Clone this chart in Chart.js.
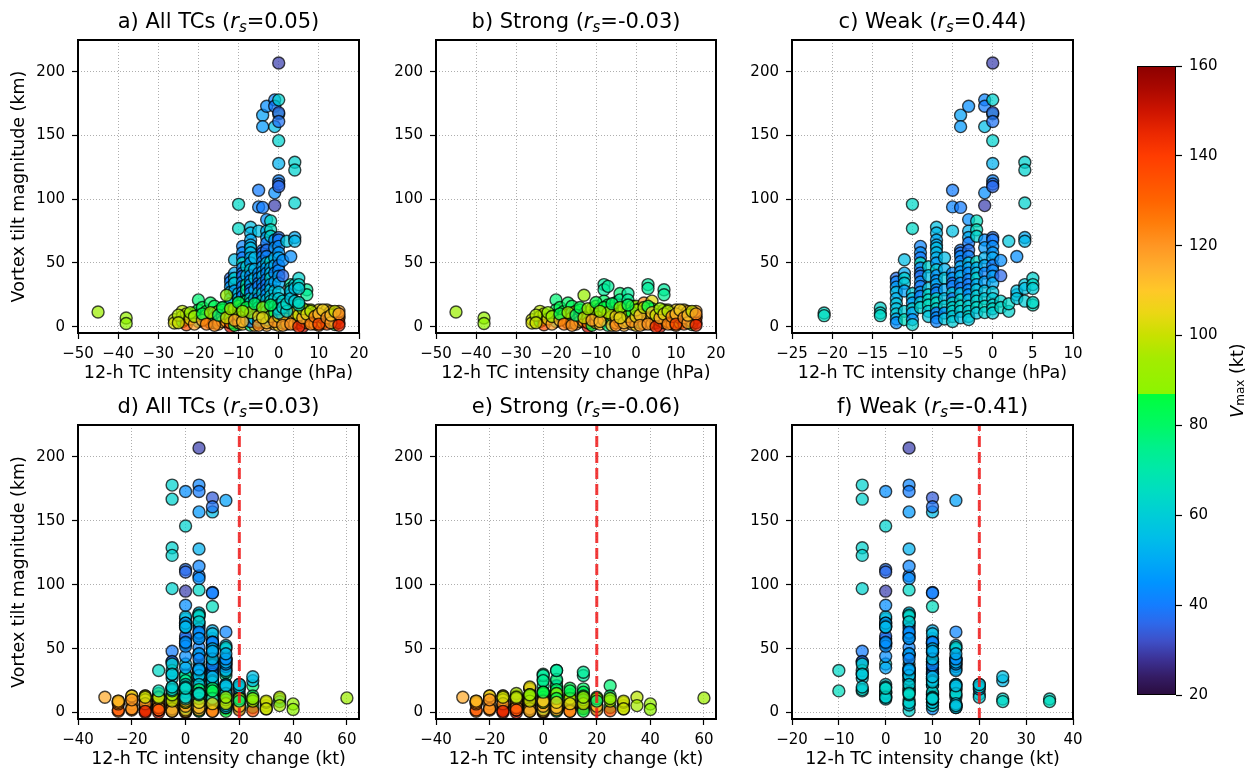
<!DOCTYPE html>
<html>
<head>
<meta charset="utf-8">
<title>Vortex tilt vs 12-h intensity change</title>
<script src="https://cdn.jsdelivr.net/npm/chart.js@4.4.1/dist/chart.umd.min.js"></script>
<style>
  html, body { margin: 0; padding: 0; background: #fff; }
  #fig { position: relative; width: 1253px; height: 772px; overflow: hidden; }
  #fig canvas { position: absolute; }
</style>
</head>
<body>
<div id="fig"></div>
<script>
// Weak TCs, one line per pressure-change bin:
// 12-h pressure change (hPa), 12-h wind change (kt), tilt (km), Vmax (kt)
const weakDp = [
  -21, -21,
  -14, -14, -14,
  -12, -12, -12, -12, -12, -12, -12, -12, -12, -12,
  -11, -11, -11, -11, -11, -11, -11,
  -10, -10, -10, -10, -10, -10, -10, -10, -10,
  -9, -9, -9, -9, -9, -9, -9, -9, -9, -9, -9, -9, -9,
  -8, -8, -8, -8, -8, -8, -8, -8,
  -7, -7, -7, -7, -7, -7, -7, -7, -7, -7, -7, -7, -7, -7, -7, -7, -7, -7, -7, -7,
  -6, -6, -6, -6, -6, -6, -6, -6,
  -5, -5, -5, -5, -5, -5, -5, -5, -5, -5, -5, -5, -5, -5,
  -4, -4, -4, -4, -4, -4, -4, -4, -4, -4, -4, -4, -4, -4, -4, -4, -4,
  -3, -3, -3, -3, -3, -3, -3, -3, -3, -3, -3, -3, -3, -3, -3, -3, -3, -3, -3,
  -2, -2, -2, -2, -2, -2, -2, -2, -2, -2, -2, -2, -2,
  -1, -1, -1, -1, -1, -1, -1, -1, -1, -1, -1, -1, -1, -1, -1,
  0, 0, 0, 0, 0, 0, 0, 0, 0, 0, 0, 0, 0, 0, 0, 0, 0, 0, 0, 0, 0, 0, 0, 0,
  1, 1, 1, 1,
  2, 2, 2,
  3, 3, 3, 3,
  4, 4, 4, 4, 4, 4, 4, 4,
  5, 5, 5, 5, 5
];
const weakDv = [
  35, 35,
  20, 25, 25,
  15, 10, 5, 10, 20, 15, 10, 5, 15, 10,
  15, 10, 5, 15, 10, 20, 10,
  5, 5, 10, 15, 20, 10, 10, 15, 5,
  15, 10, 10, 10, 5, 15, 10, 5, 5, 10, 5, 15, 10,
  10, 15, 10, 5, 5, 5, 15, 10,
  5, 0, 5, 10, 10, 5, 10, 15, 5, 10, 15, 15, 5, 10, 10, 5, 15, 10, 5, 15,
  10, 5, 10, 5, 15, 0, 10, 5,
  5, 10, 0, 15, 15, 10, 10, 5, 10, 5, 15, 0, 10, 15,
  15, 5, 10, 5, 0, 10, 5, 10, 15, 15, 5, 10, 5, 10, 5, 0, 15,
  0, 0, 5, 5, 5, 0, 10, 10, 5, 15, 10, 5, 5, 10, 15, 10, 10, 5, 15,
  10, 5, 5, 15, 15, 10, 0, 5, 5, 10, 20, 0, 10,
  5, 5, 10, 5, 0, 0, 5, 0, 10, 5, 0, 10, 5, 0, 10,
  5, -5, -5, 10, 10, 0, 5, 5, 0, 0, 0, 0, 5, 5, 0, -5, 0, -5, 5, -5, 0, -5, 5, 0,
  0, -5, 0, 5,
  0, 0, -5,
  0, 25, 25, 20,
  -5, -5, -5, 0, 0, -5, -5, -5,
  -5, -10, -10, -5, 0
];
const weakTilt = [
  10.7, 8.6,
  14.6, 10.7, 8.6,
  38, 35, 31, 27, 22, 18, 14, 10, 6, 3,
  52.5, 42, 38, 34, 28, 12, 5.5,
  96, 77, 26, 22, 18.5, 14, 10.7, 5.5, 1.6,
  63, 58, 54, 50, 46, 42, 39.5, 35, 31.6, 27, 23.8, 19, 15,
  47, 40, 30, 25, 21, 17, 12, 8,
  78, 73.5, 68, 64, 61.7, 58, 54, 50, 44.7, 40, 36, 33, 29, 26.4, 22, 18.6, 14, 10.7, 7, 4,
  54, 45, 38, 29, 22, 16, 10.7, 6,
  107, 94, 75, 42, 38, 34, 31.6, 26.4, 22, 18.6, 15, 12, 8, 4,
  166, 157, 93.6, 60, 57.8, 55, 51, 47, 43, 39.5, 34, 30, 26, 21, 16, 12, 7,
  173, 84, 75, 70, 65.6, 60, 55, 50, 46, 42, 37, 33, 29, 25, 21, 16, 12, 8, 5.5,
  83, 76, 71, 51, 46, 42, 38, 33, 29, 24, 20, 15, 10.7,
  178, 173, 157, 105, 95, 68, 62, 54, 48, 42, 35, 28, 22, 16, 11,
  207, 178, 167, 168, 161, 146, 128, 114.5, 112, 110, 70, 68, 63, 58, 54, 48, 44, 39.5, 34, 27, 22, 17, 14, 10.7,
  52, 40, 20, 15,
  67, 12, 18,
  55, 25, 28, 22,
  129, 123, 97, 70, 67, 33, 30, 20,
  38, 33, 17, 30, 19
];
const weakVmax = [
  64, 66,
  62, 63, 64,
  38, 42, 48, 55, 52, 58, 56, 60, 50, 44,
  55, 50, 62, 58, 48, 60, 66,
  64, 64, 60, 56, 48, 62, 50, 45, 62,
  42, 44, 40, 66, 42, 40, 38, 44, 40, 46, 42, 60, 62,
  62, 56, 58, 64, 64, 66, 60, 58,
  56, 54, 50, 52, 56, 54, 52, 48, 60, 44, 46, 50, 42, 42, 64, 64, 62, 40, 44, 42,
  55, 52, 58, 50, 56, 60, 45, 58,
  40, 42, 56, 44, 46, 38, 42, 58, 40, 64, 62, 62, 58, 60,
  48, 46, 40, 40, 38, 44, 42, 50, 46, 52, 44, 40, 58, 62, 64, 60, 56,
  44, 44, 52, 50, 40, 38, 42, 56, 48, 44, 42, 40, 44, 46, 56, 62, 60, 64, 58,
  66, 66, 62, 64, 52, 56, 62, 50, 58, 60, 62, 64, 58,
  42, 40, 55, 44, 30, 44, 46, 52, 50, 42, 48, 56, 60, 64, 62,
  30, 62, 62, 34, 38, 62, 52, 42, 38, 36, 38, 40, 44, 46, 50, 40, 44, 48, 50, 58, 60, 62, 64, 60,
  44, 36, 62, 64,
  58, 62, 64,
  44, 54, 56, 58,
  62, 62, 62, 50, 54, 58, 56, 60,
  62, 64, 66, 60, 64
];

// Strong TCs: same quantities
const strongDp = [
  -45, -38, -38, -26, -26, -24, -24, -24, -23, -23, -23,
  -20, -20, -20, -20, -19, -18, -18, -18, -17, -17,
  -16, -16, -16, -16, -15, -15, -15, -14, -14, -14,
  -13, -13, -13, -12, -12, -12, -12, -11, -11, -11,
  -10, -10, -10, -10, -10, -9, -9, -9, -8, -8, -8, -8, -8,
  -7, -7, -7, -7, -6, -6, -6, -6, -5, -5, -5,
  -4, -4, -4, -4, -3, -3, -3, -3, -2, -2, -2, -2,
  -1, -1, -1, 0, 0, 0, 0, 1, 1, 1, 2, 2, 2, 2,
  3, 3, 3, 3, 4, 4, 4, 4, 5, 5, 5, 6, 6, 6,
  7, 7, 7, 7, 8, 8, 8, 9, 9, 9, 10, 10, 10,
  10, 11, 11, 11, 12, 12, 12, 12, 13, 13, 13,
  14, 14, 14, 14, 15, 15, 15, 15,
  -25, -25, -22, -22, -21, -21, -19, -19, -18, -17, -16, -15, -14, -13,
  -12, -11, -10, -9, -8, -7, -6, -5, -5, -4, -3, -2, -1, -1,
  0, 0, 1, 1, 2, 3, 3, 4, 5, 5, 6, 6, 7, 8,
  8, 9, 10, 10, 11, 12, 13, 13, 14, 15, 15, -2, -9, -4
];
const strongDv = [
  60, 40, 40, 30, 30, 35, 30, 25, 35, 25, 20,
  25, 25, 15, 20, 15, 20, 15, 30, 15, 10,
  15, 15, 10, 20, 10, 15, 5, 10, 10, 15,
  5, 10, 5, 10, 5, 0, 15, 5, 10, 15,
  5, 0, 10, 5, 15, 5, 10, 0, 5, 15, 5, 0, 10,
  15, 5, 0, 5, 5, 0, 10, -5, 0, 5, -5,
  0, 5, 0, -5, 0, -5, 5, 0, 5, 0, -5, 0,
  0, -5, 5, 0, -5, -10, 0, -5, -10, 0, -5, -10, 0, -5,
  5, 0, -5, -10, -5, -10, -5, 0, -10, -5, -15, -10, -10, -15,
  0, 0, -10, -5, -15, -10, -15, -15, -20, -10, -15, -10, 0,
  -25, -20, -15, -5, -20, -25, -10, -25, -5, -10, -15,
  0, -5, -10, -10, -25, -25, -20, -30,
  25, 30, 20, 25, 20, 15, 20, 15, 10, 20, 10, 20, 5, 15,
  10, 0, 10, 5, 0, 10, 5, 0, 10, 5, -5, 0, 5, -10,
  5, -5, 0, -5, -10, -15, 0, -10, -5, -15, -20, -5, -15, -20,
  -10, -25, -15, -10, -20, -15, -20, -25, -15, -20, -15, 10, 15, 10
];
const strongTilt = [
  11.5, 6.8, 2.5, 5.5, 2.9, 12, 8, 4, 5.5, 1.5, 10,
  21, 13, 4, 9, 15, 12, 6, 9, 18.6, 3,
  16, 10.7, 7, 3, 12, 5, 2, 8, 4, 13,
  24.6, 4, 10, 11, 7, 0, 3, 9, 14, 1,
  12, 6, 3, 16, 9, 14, 8, 2, 33, 29, 20, 11, 5,
  31.6, 17, 8, 1, 5.5, 14, 9, 1, 12, 3, 19,
  26, 21, 10, 4, 6, 9, 14, 1, 26, 21, 12, 4,
  16, 7, 2, 16, 5, 10, 1, 14, 6, 3, 18.6, 8, 12, 2,
  33, 30, 10, 5, 20, 8, 14, 2, 12, 6, 3, 0, 10, 5,
  29, 25, 13, 3, 9, 4, 13, 6, 11, 2, 13, 4, 8,
  1, 10, 3, 7, 13, 9, 5, 2, 11, 12, 6,
  10, 1.6, 8, 4, 8, 6.8, 3, 12,
  9, 3, 6, 11, 2, 8, 5, 10, 2, 11, 1, 9, 15, 7,
  14, 5, 19, 4, 15, 11, 18, 8, 1, 15, 3, 8, 11, 4,
  8, 13, 9, 1, 15, 2, 16, 11, 9, 0, 7, 14, 10, 2,
  12, 8, 10, 2, 13, 7, 3, 9, 12, 10, 1, 17, 12, 7
];
const strongVmax = [
  92, 90, 88, 100, 102, 98, 104, 86, 95, 135, 100,
  78, 80, 70, 76, 84, 86, 110, 100, 80, 118,
  82, 68, 96, 72, 100, 115, 118, 120, 110, 86,
  90, 122, 108, 104, 84, 150, 124, 112, 96, 86,
  104, 106, 116, 92, 88, 86, 98, 110, 72, 72, 80, 100, 122,
  73, 84, 108, 76, 82, 90, 100, 112, 98, 112, 86,
  78, 74, 116, 120, 82, 124, 96, 116, 72, 74, 100, 108,
  98, 104, 112, 90, 102, 118, 108, 96, 110, 86, 120, 122, 104, 124,
  72, 73, 100, 115, 104, 106, 84, 110, 112, 96, 118, 152, 108, 124,
  72, 74, 100, 116, 110, 114, 98, 104, 108, 118, 106, 122, 100,
  126, 114, 90, 120, 104, 140, 112, 134, 100, 116, 142,
  106, 86, 120, 112, 120, 124, 142, 116,
  96, 100, 104, 88, 118, 92, 112, 84, 126, 94, 122, 78, 84, 100,
  92, 118, 84, 112, 86, 96, 80, 106, 122, 88, 112, 96, 84, 120,
  104, 92, 112, 118, 96, 120, 84, 110, 100, 145, 116, 90, 104, 124,
  96, 124, 112, 138, 108, 120, 118, 110, 100, 120, 146, 82, 92, 104
];

// Spearman coefficients shown in the panel titles
const rsValues = ['0.05', '-0.03', '0.44', '0.03', '-0.06', '-0.41'];
// Rapid-intensification threshold (kt / 12 h)
const riThreshold = 20;

// Tick positions
const dpTicksAll = [-50, -40, -30, -20, -10, 0, 10, 20];
const dpTicksWeak = [-25, -20, -15, -10, -5, 0, 5, 10];
const dvTicksAll = [-40, -20, 0, 20, 40, 60];
const dvTicksWeak = [-20, -10, 0, 10, 20, 30, 40];
const tiltTicks = [0, 50, 100, 150, 200];
const vmaxTicks = [20, 40, 60, 80, 100, 120, 140, 160];

// Vmax colour map (kt -> rgb), with the hard break near 87 kt
const cmapValues = [20, 24, 28, 32, 36, 40, 45, 50, 55, 60, 65, 70, 75, 80, 86.9, 87,
  95, 100, 105, 110, 115, 120, 125, 130, 135, 140, 145, 150, 155, 160];
const cmapColors = [
  [42, 12, 62], [52, 28, 100], [60, 50, 150], [62, 80, 200], [45, 105, 235], [20, 125, 255],
  [0, 148, 255], [0, 170, 245], [0, 190, 232], [0, 205, 215], [0, 220, 195], [0, 232, 170],
  [0, 240, 140], [0, 248, 100], [0, 255, 60], [140, 245, 0],
  [165, 235, 0], [200, 225, 0], [235, 215, 20], [255, 200, 40], [255, 175, 45], [255, 150, 35],
  [255, 125, 10], [255, 100, 0], [255, 80, 0], [255, 60, 0], [235, 40, 0], [205, 20, 0],
  [170, 8, 0], [140, 0, 0]
];

const FAMILY = '"DejaVu Sans", "Liberation Sans", sans-serif';
const Y_MIN = -5, Y_MAX = 225;

Chart.defaults.font.family = FAMILY;
Chart.defaults.color = '#000';

function cmapRgb(v) {
  if (v <= cmapValues[0]) return cmapColors[0];
  for (let i = 1; i < cmapValues.length; i++) {
    if (v <= cmapValues[i]) {
      const t = (v - cmapValues[i - 1]) / (cmapValues[i] - cmapValues[i - 1]);
      const a = cmapColors[i - 1], b = cmapColors[i];
      return a.map((c, k) => Math.round(c + (b[k] - c) * t));
    }
  }
  return cmapColors[cmapColors.length - 1];
}
const rgba = (c, a) => `rgba(${c[0]},${c[1]},${c[2]},${a})`;

const groups = {
  weak: { dp: weakDp, dv: weakDv, tilt: weakTilt, vmax: weakVmax },
  strong: { dp: strongDp, dv: strongDv, tilt: strongTilt, vmax: strongVmax }
};

const fmtTick = v => (v < 0 ? '\u2212' + Math.abs(v) : String(v));

// Axes boxes in page pixels
const panels = [
  { tag: 'a) All TCs', xKey: 'dp', sets: ['weak', 'strong'], xMin: -50, xMax: 20, xTicks: dpTicksAll, unit: 'hPa', left: 78, top: 40, w: 281, h: 293, yTitle: true },
  { tag: 'b) Strong', xKey: 'dp', sets: ['strong'], xMin: -50, xMax: 20, xTicks: dpTicksAll, unit: 'hPa', left: 436, top: 40, w: 280, h: 293 },
  { tag: 'c) Weak', xKey: 'dp', sets: ['weak'], xMin: -25, xMax: 10, xTicks: dpTicksWeak, unit: 'hPa', left: 792, top: 40, w: 281, h: 293 },
  { tag: 'd) All TCs', xKey: 'dv', sets: ['weak', 'strong'], xMin: -40, xMax: 64.5, xTicks: dvTicksAll, unit: 'kt', left: 78, top: 425, w: 281, h: 294, yTitle: true, ri: true },
  { tag: 'e) Strong', xKey: 'dv', sets: ['strong'], xMin: -40, xMax: 64.5, xTicks: dvTicksAll, unit: 'kt', left: 436, top: 425, w: 280, h: 294, ri: true },
  { tag: 'f) Weak', xKey: 'dv', sets: ['weak'], xMin: -20, xMax: 40, xTicks: dvTicksWeak, unit: 'kt', left: 792, top: 425, w: 281, h: 294, ri: true }
];

// room around each axes box inside its canvas
const ML = 78, MT = 40, MR = 24, MB = 55;

const fig = document.getElementById('fig');
function addCanvas(x, y, w, h) {
  const c = document.createElement('canvas');
  c.width = w; c.height = h;
  c.style.left = x + 'px'; c.style.top = y + 'px';
  c.style.width = w + 'px'; c.style.height = h + 'px';
  fig.appendChild(c);
  return c;
}

// draws a run of text pieces (font, vertical shift) centred on x
function drawRuns(ctx, runs, x, y) {
  let w = 0;
  runs.forEach(r => { ctx.font = r.font; w += ctx.measureText(r.text).width; });
  let cx = x - w / 2;
  runs.forEach(r => {
    ctx.font = r.font;
    ctx.fillText(r.text, cx, y + (r.dy || 0));
    cx += ctx.measureText(r.text).width;
  });
}

const panelFrame = {
  id: 'panelFrame',
  afterDatasetsDraw(chart) {
    const { ctx, chartArea: a } = chart;
    ctx.save();
    ctx.strokeStyle = '#000';
    ctx.lineWidth = 2;
    ctx.strokeRect(a.left, a.top, a.right - a.left, a.bottom - a.top);
    ctx.restore();
  },
  afterDraw(chart, args, opts) {
    const { ctx, chartArea: a } = chart;
    ctx.save();
    ctx.fillStyle = '#000';
    ctx.textBaseline = 'alphabetic';
    ctx.textAlign = 'left';
    drawRuns(ctx, [
      { text: opts.tag + ' (', font: `21px ${FAMILY}` },
      { text: 'r', font: `italic 21px ${FAMILY}` },
      { text: 's', font: `italic 15px ${FAMILY}`, dy: 4 },
      { text: '=' + opts.rs + ')', font: `21px ${FAMILY}` }
    ], (a.left + a.right) / 2, a.top - 12);
    ctx.restore();
  }
};

// one point list per panel; weak and strong records alternate in drawing order
function panelPoints(p) {
  const lists = p.sets.map(name => {
    const g = groups[name];
    return g.tilt.map((t, k) => ({ x: g[p.xKey][k], y: t, v: g.vmax[k] }));
  });
  const out = [];
  const n = Math.max(...lists.map(l => l.length));
  for (let k = 0; k < n; k++) lists.forEach(l => { if (k < l.length) out.push(l[k]); });
  return out;
}

panels.forEach((p, i) => {
  const canvas = addCanvas(p.left - ML, p.top - MT, ML + p.w + MR, MT + p.h + MB);
  const recs = panelPoints(p);

  const datasets = [{
    data: recs.map(r => ({ x: r.x, y: r.y })),
    pointRadius: 6,
    pointBackgroundColor: recs.map(r => rgba(cmapRgb(r.v), 0.72)),
    pointBorderColor: 'rgba(0,0,0,0.72)',
    pointBorderWidth: 1.4,
    clip: 0,
    order: 2
  }];
  if (p.ri) {
    datasets.push({
      data: [{ x: riThreshold, y: Y_MIN }, { x: riThreshold, y: Y_MAX }],
      showLine: true,
      borderColor: 'rgba(240,25,25,0.85)',
      borderWidth: 3,
      borderDash: [11, 5],
      pointRadius: 0,
      clip: 0,
      order: 1
    });
  }

  const grid = {
    color: '#999999', lineWidth: 0.8,
    tickColor: '#000', tickLength: 6, tickWidth: 1.2, tickBorderDash: []
  };

  new Chart(canvas, {
    type: 'scatter',
    data: { datasets },
    options: {
      responsive: false,
      animation: false,
      events: [],
      layout: { padding: { left: 0, top: MT, right: MR, bottom: 0 } },
      plugins: {
        legend: { display: false },
        tooltip: { enabled: false },
        panelFrame: { tag: p.tag, rs: rsValues[i] }
      },
      scales: {
        x: {
          type: 'linear', min: p.xMin, max: p.xMax,
          afterBuildTicks: s => { s.ticks = p.xTicks.map(v => ({ value: v })); },
          afterFit: s => { s.height = MB; },
          ticks: { font: { size: 15 }, color: '#000', padding: 6, maxRotation: 0, autoSkip: false, callback: fmtTick },
          grid,
          border: { display: false, dash: [1, 2] },
          title: { display: true, text: `12-h TC intensity change (${p.unit})`, font: { size: 17.5 }, color: '#000', padding: { top: 0, bottom: 4 } }
        },
        y: {
          type: 'linear', min: Y_MIN, max: Y_MAX,
          afterBuildTicks: s => { s.ticks = tiltTicks.map(v => ({ value: v })); },
          afterFit: s => { s.width = ML; },
          ticks: { font: { size: 15 }, color: '#000', padding: 7, callback: fmtTick },
          grid,
          border: { display: false, dash: [1, 2] },
          title: { display: !!p.yTitle, text: 'Vortex tilt magnitude (km)', font: { size: 17.5 }, color: '#000', padding: { top: 9, bottom: 0 } }
        }
      }
    },
    plugins: [panelFrame]
  });
});

// Colour bar for Vmax
const CB = { left: 1137, top: 66, w: 39, h: 629 };
const cbPad = 20, cbAxis = 116;
const cbCanvas = addCanvas(CB.left, CB.top - cbPad, CB.w + cbAxis, CB.h + 2 * cbPad);

const colorBar = {
  id: 'colorBar',
  beforeDatasetsDraw(chart) {
    const { ctx, chartArea: a, scales: { y } } = chart;
    const lo = vmaxTicks[0], hi = vmaxTicks[vmaxTicks.length - 1];
    const grad = ctx.createLinearGradient(0, y.getPixelForValue(lo), 0, y.getPixelForValue(hi));
    cmapValues.forEach((v, k) => grad.addColorStop((v - lo) / (hi - lo), rgba(cmapColors[k], 1)));
    ctx.save();
    ctx.fillStyle = grad;
    ctx.fillRect(a.left, a.top, a.right - a.left, a.bottom - a.top);
    ctx.strokeStyle = '#000';
    ctx.lineWidth = 1;
    ctx.strokeRect(a.left + 0.5, a.top + 0.5, a.right - a.left - 1, a.bottom - a.top - 1);
    ctx.restore();
  },
  afterDraw(chart) {
    const { ctx, chartArea: a } = chart;
    ctx.save();
    ctx.translate(a.right + 62, (a.top + a.bottom) / 2);
    ctx.rotate(-Math.PI / 2);
    ctx.fillStyle = '#000';
    ctx.textBaseline = 'middle';
    drawRuns(ctx, [
      { text: 'V', font: `italic 17.5px ${FAMILY}` },
      { text: 'max', font: `12px ${FAMILY}`, dy: 3 },
      { text: ' (kt)', font: `17.5px ${FAMILY}` }
    ], 0, 0);
    ctx.restore();
  }
};

new Chart(cbCanvas, {
  type: 'scatter',
  data: { datasets: [{ data: [] }] },
  options: {
    responsive: false,
    animation: false,
    events: [],
    layout: { padding: { left: 0, top: cbPad, right: 0, bottom: cbPad } },
    plugins: { legend: { display: false }, tooltip: { enabled: false } },
    scales: {
      x: { display: false, min: 0, max: 1 },
      y: {
        position: 'right', min: vmaxTicks[0], max: vmaxTicks[vmaxTicks.length - 1],
        afterBuildTicks: s => { s.ticks = vmaxTicks.map(v => ({ value: v })); },
        afterFit: s => { s.width = cbAxis; },
        ticks: { font: { size: 15 }, color: '#000', padding: 7 },
        grid: { drawOnChartArea: false, tickColor: '#000', tickLength: 6, tickWidth: 1.2 },
        border: { display: false }
      }
    }
  },
  plugins: [colorBar]
});
</script>
</body>
</html>
